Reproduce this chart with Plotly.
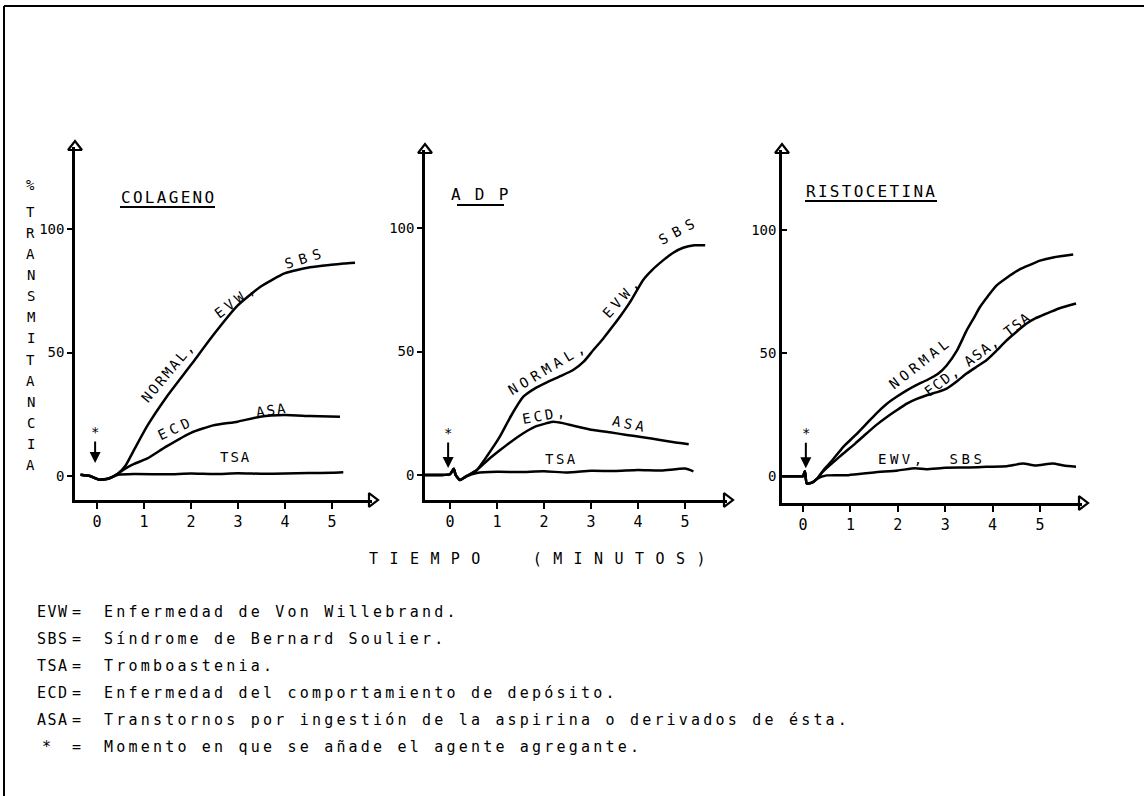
import plotly.graph_objects as go

W, H = 1144, 796
FONT = "DejaVu Sans Mono"

# ---------------- DATA ----------------
# Panel 1: COLAGENO
col_t_normal = [-0.35, -0.15, 0.05, 0.25, 0.45, 0.6, 0.8, 1.06, 1.48, 2.0, 2.47, 2.99, 3.47, 3.99, 4.53, 4.98, 5.25, 5.49]
col_normal = [0.5, 0, -1.5, -1, 1, 4, 11, 20, 32, 45, 57, 69, 76.5, 82, 84.5, 85.5, 86, 86.3]
col_t_ecd = [-0.35, -0.15, 0.05, 0.25, 0.45, 0.6, 0.8, 1.06, 1.48, 2.0, 2.47, 2.99, 3.47, 3.99, 4.53, 5.17]
col_ecd = [0.5, 0, -1.5, -1, 1, 3, 5, 7, 12, 17.5, 20.5, 22, 24, 24.7, 24.3, 24]
col_t_tsa = [-0.35, -0.15, 0.05, 0.25, 0.45, 0.8, 1.5, 2.0, 2.5, 3.0, 3.5, 4.0, 4.5, 5.0, 5.24]
col_tsa = [0.5, 0, -1.5, -1, 0.5, 0.8, 0.7, 1.0, 0.8, 1.1, 0.9, 1.0, 1.2, 1.3, 1.5]

# Panel 2: ADP
adp_t_normal = [-0.53, -0.2, 0.0, 0.08, 0.12, 0.21, 0.35, 0.57, 0.8, 1.06, 1.3, 1.56, 1.8, 2.06, 2.35, 2.62, 2.85, 3.05, 3.25, 3.47, 3.65, 3.83, 4.11, 4.3, 4.54, 4.75, 4.96, 5.2, 5.43]
adp_normal = [0, 0, 0.3, 2.5, 0, -2, -0.5, 2, 8, 15.5, 24, 31.7, 35, 37.5, 40, 42.5, 46, 50.6, 55, 60.4, 65, 70, 79, 83, 87, 90, 92, 93, 93]
adp_t_ecd = [-0.53, -0.2, 0.0, 0.08, 0.12, 0.21, 0.35, 0.57, 0.8, 1.06, 1.3, 1.56, 1.8, 2.06, 2.2, 2.4, 2.62, 3.05, 3.4, 3.76, 4.1, 4.47, 4.8, 5.08]
adp_ecd = [0, 0, 0.3, 2.5, 0, -2, -0.5, 2, 6, 10, 13.5, 16.9, 19.5, 21, 21.6, 21, 20, 18.2, 17.3, 16.2, 15.3, 14.2, 13.2, 12.5]
adp_t_tsa = [-0.53, -0.2, 0.0, 0.08, 0.12, 0.21, 0.35, 0.57, 1.0, 1.5, 2.0, 2.5, 3.0, 3.5, 4.0, 4.5, 5.0, 5.18]
adp_tsa = [0, 0, 0.3, 2.5, 0, -2, -0.5, 0.8, 1.3, 1.2, 1.5, 1.0, 1.7, 1.6, 2.0, 1.8, 2.6, 1.5]

# Panel 3: RISTOCETINA
ris_t_normal = [-0.44, -0.15, 0.0, 0.04, 0.08, 0.2, 0.3, 0.43, 0.6, 0.85, 1.1, 1.34, 1.55, 1.77, 2.0, 2.19, 2.4, 2.61, 2.85, 3.03, 3.25, 3.45, 3.6, 3.73, 3.9, 4.08, 4.3, 4.58, 4.8, 5.0, 5.3, 5.7]
ris_normal = [0, 0, 0, 2, -3, -2.5, -1, 2.4, 6, 11.9, 16.5, 21.3, 25.5, 29.4, 32.5, 34.8, 37, 38.9, 41.5, 44.9, 51, 59, 64, 68.5, 73, 77.3, 80.5, 84, 85.8, 87.4, 88.8, 89.9]
ris_t_ecd = [-0.44, -0.15, 0.0, 0.04, 0.08, 0.2, 0.3, 0.43, 0.6, 0.85, 1.1, 1.34, 1.55, 1.77, 2.0, 2.19, 2.4, 2.61, 2.85, 3.03, 3.25, 3.45, 3.65, 3.87, 4.1, 4.29, 4.5, 4.71, 4.9, 5.13, 5.4, 5.76]
ris_ecd = [0, 0, 0, 2, -3, -2.5, -1, 2, 5, 9.2, 13.2, 17.3, 20.8, 24, 27, 29.4, 31.3, 32.8, 34.2, 35.5, 38.5, 41.6, 44.2, 47, 51.2, 55, 58.5, 61.8, 64, 65.9, 68, 70]
ris_t_ewv = [-0.44, -0.15, 0.0, 0.04, 0.08, 0.2, 0.3, 0.5, 0.96, 1.5, 2.0, 2.37, 2.6, 3.0, 3.5, 3.87, 4.3, 4.64, 4.9, 5.27, 5.5, 5.76]
ris_ewv = [0, 0, 0, 2, -3, -2.5, -1, 0.3, 0.4, 1.5, 2.3, 3.2, 2.8, 3.4, 3.5, 3.8, 4.0, 5.1, 4.3, 5.1, 4.3, 3.8]

x_ticks = [0, 1, 2, 3, 4, 5]
y_ticks = [0, 50, 100]
panel_titles = ["COLAGENO", "A D P", "RISTOCETINA"]
y_title_letters = ["T", "R", "A", "N", "S", "M", "I", "T", "A", "N", "C", "I", "A"]
x_title = "T I E M P O\u00a0\u00a0\u00a0\u00a0\u00a0( M I N U T O S )"
legend_abbr = ["EVW", "SBS", "TSA", "ECD", "ASA", "*"]
legend_desc = [
    "Enfermedad de Von Willebrand.",
    "Síndrome de Bernard Soulier.",
    "Tromboastenia.",
    "Enfermedad del comportamiento de depósito.",
    "Transtornos por ingestión de la aspirina o derivados de ésta.",
    "Momento en que se añade el agente agregante.",
]

# ---------------- LAYOUT GEOMETRY ----------------
def px(x):
    return x / W

def py(y):
    return 1 - y / H

panels = [
    dict(xd=(75, 372), yd=(500, 147), xr=(-0.468, 5.851), yr=(-9.72, 133.2), ticks_y="outside"),
    dict(xd=(425, 727), yd=(500, 150), xr=(-0.532, 5.894), yr=(-10.12, 131.6), ticks_y="outside"),
    dict(xd=(782, 1082), yd=(503, 150), xr=(-0.443, 5.886), yr=(-10.9, 132.3), ticks_y="inside"),
]

fig = go.Figure()
LW = 2.5

series = [
    [(col_t_normal, col_normal), (col_t_ecd, col_ecd), (col_t_tsa, col_tsa)],
    [(adp_t_normal, adp_normal), (adp_t_ecd, adp_ecd), (adp_t_tsa, adp_tsa)],
    [(ris_t_normal, ris_normal), (ris_t_ecd, ris_ecd), (ris_t_ewv, ris_ewv)],
]

layout_axes = {}
for i, p in enumerate(panels):
    sfx = "" if i == 0 else str(i + 1)
    xa, ya = "x" + sfx, "y" + sfx
    for t, v in series[i]:
        fig.add_trace(go.Scatter(x=t, y=v, mode="lines", xaxis=xa, yaxis=ya,
                                 line=dict(color="black", width=LW, shape="spline", smoothing=0.5),
                                 hoverinfo="skip", showlegend=False))
    # axis arrowheads at the ends of the axes
    fig.add_trace(go.Scatter(x=[p["xr"][0], p["xr"][1]], y=[p["yr"][1], p["yr"][0]], mode="markers",
                             xaxis=xa, yaxis=ya, cliponaxis=False,
                             marker=dict(symbol=["triangle-up-open", "triangle-right-open"], size=12,
                                         color="black", line=dict(width=2.2, color="black")),
                             hoverinfo="skip", showlegend=False))
    layout_axes["xaxis" + sfx] = dict(domain=[px(p["xd"][0]), px(p["xd"][1])], range=list(p["xr"]),
                                      anchor=ya, showline=True, linewidth=2.5, linecolor="black",
                                      ticks="outside", ticklen=6, tickwidth=2, tickcolor="black",
                                      tickvals=x_ticks, showgrid=False, zeroline=False,
                                      tickfont=dict(family=FONT, size=15, color="black"))
    layout_axes["yaxis" + sfx] = dict(domain=[py(p["yd"][0]), py(p["yd"][1])], range=list(p["yr"]),
                                      anchor=xa, showline=True, linewidth=2.5, linecolor="black",
                                      ticks=p["ticks_y"], ticklen=5, tickwidth=2, tickcolor="black",
                                      tickvals=y_ticks, showgrid=False, zeroline=False,
                                      tickfont=dict(family=FONT, size=14, color="black"))

fig.update_layout(**layout_axes)

ann = []
shapes = []

def sp(text, ls):
    return '<span style="letter-spacing:%spx">%s</span>' % (ls, text)

def paper_text(x, y, text, size=15, xanchor="center", yanchor="middle"):
    return dict(x=px(x), y=py(y), xref="paper", yref="paper", text=text, showarrow=False,
                xanchor=xanchor, yanchor=yanchor, font=dict(family=FONT, size=size, color="black"))

# panel titles with underlines
title_pos = [(168, 197, 120, 215, 207), (481, 195, 457, 504, 205), (872, 192, 805, 937, 201)]
for (cx, cy, u0, u1, uy), t in zip(title_pos, panel_titles):
    ann.append(paper_text(cx, cy, sp(t, 2.3), size=16))
    shapes.append(dict(type="line", xref="paper", yref="paper", x0=px(u0), x1=px(u1), y0=py(uy), y1=py(uy),
                       line=dict(color="black", width=2)))

# curve labels: (axis suffix, text, x, y, angle, letter spacing)
labels = [
    ("", "NORMAL,", 1.51, 42.1, -50, 2.2), ("", "EVW,", 2.96, 71.3, -37, 4), ("", "SBS", 4.43, 88.3, -17, 6),
    ("", "ECD", 1.68, 19.4, -25, 4), ("", "ASA", 3.72, 26.7, -8, 2), ("", "TSA", 2.94, 7.7, 0, 2),
    ("2", "NORMAL,", 2.09, 43.3, -31, 4.5), ("2", "EVW,", 3.66, 72.1, -48, 4), ("2", "SBS", 4.89, 99.2, -28, 6.5),
    ("2", "ECD,", 2.02, 24.3, -10, 3), ("2", "ASA", 3.83, 20.6, 12, 3.5), ("2", "TSA", 2.38, 6.5, 0, 2.5),
    ("3", "NORMAL", 2.47, 46.0, -38, 4), ("3", "ECD, ASA, TSA", 3.69, 49.6, -37, 1.5),
    ("3", "EWV,\u00a0\u00a0SBS", 2.72, 6.9, 0, 3.5),
]
for sfx, t, x, y, a, ls in labels:
    ann.append(dict(x=x, y=y, xref="x" + sfx, yref="y" + sfx, text=sp(t, ls), showarrow=False,
                    xanchor="center", yanchor="middle",
                    textangle=a, font=dict(family=FONT, size=14, color="black")))

# agent-added markers (* with down arrow)
stars = [("", -0.04, 5.3, -31), ("2", -0.04, 2.8, -35), ("3", 0.06, 3.2, -35)]
for sfx, x, y, ay in stars:
    ann.append(dict(x=x, y=y, xref="x" + sfx, yref="y" + sfx, text="*", showarrow=True, arrowhead=2,
                    arrowsize=1.1, arrowwidth=2, arrowcolor="black", ax=0, ay=ay,
                    font=dict(family=FONT, size=14, color="black")))

# vertical y title
ann.append(paper_text(31, 185, "%", size=14))
for k, ch in enumerate(y_title_letters):
    ann.append(paper_text(31, 212 + k * 21.08, ch, size=14))

# x title
ann.append(paper_text(538, 559, sp(x_title, 1.2), size=15))

# legend block
for k, (ab, ds) in enumerate(zip(legend_abbr, legend_desc)):
    yy = 612 + k * 27
    ann.append(paper_text(35 if ab != "*" else 40, yy, sp(ab, 1.5), xanchor="left"))
    ann.append(paper_text(76, yy, "="))
    ann.append(paper_text(102, yy, sp(ds, 3.2), xanchor="left"))

# frame
shapes.append(dict(type="line", xref="paper", yref="paper", x0=px(4), x1=1, y0=py(6), y1=py(6),
                   line=dict(color="black", width=2)))
shapes.append(dict(type="line", xref="paper", yref="paper", x0=px(4), x1=px(4), y0=py(6), y1=0,
                   line=dict(color="black", width=2)))

fig.update_layout(width=W, height=H, margin=dict(l=0, r=0, t=0, b=0), paper_bgcolor="white",
                  plot_bgcolor="white", showlegend=False, annotations=ann, shapes=shapes,
                  font=dict(family=FONT, color="black"))

fig.write_html("out.html", config={"displayModeBar": False},
               post_script="document.body.style.margin='0px';")
